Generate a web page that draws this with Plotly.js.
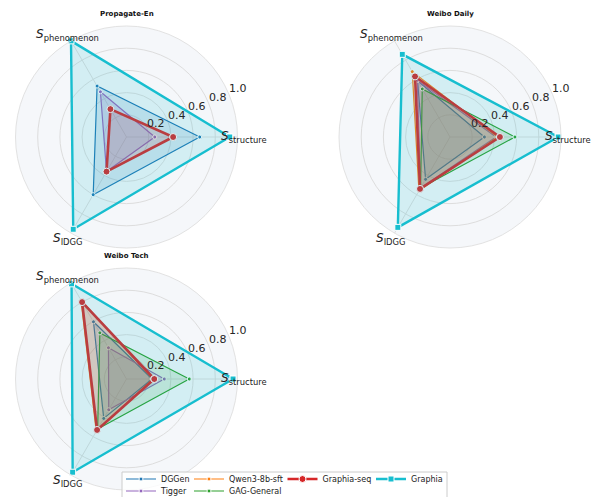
<!DOCTYPE html>
<html><head><meta charset="utf-8">
<script src="https://cdn.plot.ly/plotly-3.0.1.min.js"></script>
<style>html,body{margin:0;padding:0;background:#fff}#chart{width:592px;height:497px}</style>
</head><body><div id="chart"></div>
<script>
// ---- data ----
const axes = ['structure', 'phenomenon', 'IDGG'];
const axisLabels = ['<i>S</i><sub>structure</sub>', '<i>S</i><sub>phenomenon</sub>', '<i>S</i><sub>IDGG</sub>'];
const datasets = ['Propagate-En', 'Weibo Daily', 'Weibo Tech'];
const radialTicks = [0.2, 0.4, 0.6, 0.8, 1.0];
const radialTickText = ['0.2', '0.4', '0.6', '0.8', '1.0'];
const methods = ['DGGen', 'Tigger', 'Qwen3-8b-sft', 'GAG-General', 'Graphia-seq', 'Graphia'];

// values per dataset: [S_structure, S_phenomenon, S_IDGG]
const DGGen      = [[0.66, 0.53, 0.60], [0.31, 0.585, 0.44], [0.23, 0.595, 0.41]];
const Tigger     = [[0.255, 0.47, 0.36], [0.415, 0.59, 0.53], [0.34, 0.325, 0.32]];
const Qwen3      = [null, [0.43, 0.68, 0.56], [0.24, 0.82, 0.545]];
const GAGGeneral = [null, [0.585, 0.50, 0.53], [0.565, 0.48, 0.52]];
const GraphiaSeq = [[0.42, 0.29, 0.36], [0.45, 0.63, 0.54], [0.25, 0.80, 0.53]];
const Graphia    = [[0.93, 1.0, 0.96], [0.975, 0.86, 0.94], [0.96, 0.99, 0.97]];
const seriesValues = [DGGen, Tigger, Qwen3, GAGGeneral, GraphiaSeq, Graphia];

// ---- styles ----
const colors = ['#1f77b4', '#9467bd', '#ff7f0e', '#2ca02c', '#d62728', '#17becf'];
const fills = ['rgba(31,119,180,0.15)', 'rgba(148,103,189,0.15)', 'rgba(255,127,14,0.15)',
               'rgba(44,160,44,0.15)', 'rgba(214,39,40,0.15)', 'rgba(23,190,207,0.15)'];
const lineW = [1.2, 1.2, 1.2, 1.2, 2.6, 2.4];
const markSize = [4, 4, 4, 4, 7, 6];
const markSym = ['circle', 'circle', 'circle', 'circle', 'circle', 'square'];
const legendWhich = ['legend', 'legend2', 'legend', 'legend2', 'legend', 'legend'];
const legendRank = [1, 1, 2, 2, 3, 4];
const legendW = [23, 23, 48.5, 48.5, 43.5, 32];

const W = 592, H = 497, R = 111;
const centers = [[126.5, 137], [450, 137], [126.5, 379]];
const polarIds = ['polar', 'polar2', 'polar3'];
const FONT = 'DejaVu Sans, sans-serif';

const traces = [];
datasets.forEach((ds, d) => {
  seriesValues.forEach((vals, m) => {
    const v = vals[d];
    if (!v) return;
    const r = v.concat([v[0]]);
    const theta = axes.concat([axes[0]]);
    traces.push({
      type: 'scatterpolar', subplot: polarIds[d], r: r, theta: theta,
      mode: 'lines', fill: 'toself', fillcolor: fills[m],
      line: {width: 0, color: 'rgba(0,0,0,0)'}, showlegend: false, hoverinfo: 'skip'
    });
    traces.push({
      type: 'scatterpolar', subplot: polarIds[d], r: r, theta: theta,
      mode: 'lines+markers', name: methods[m],
      line: {color: colors[m], width: lineW[m]},
      marker: {color: colors[m], size: markSize[m], symbol: markSym[m], line: {color: '#ffffff', width: 1}},
      showlegend: d === 1, legend: legendWhich[m], legendrank: legendRank[m],
      legendwidth: legendW[m], legendgroup: methods[m]
    });
  });
});

const annotations = [];
const layout = {
  width: W, height: H, margin: {l: 0, r: 0, t: 0, b: 0, autoexpand: false},
  paper_bgcolor: '#ffffff', font: {family: FONT, color: '#222222'},
  showlegend: true, annotations: annotations,
  legend: {orientation: 'h', x: 121 / W, xanchor: 'left', y: 1 - 464.5 / H, yanchor: 'top',
           bgcolor: 'rgba(0,0,0,0)', borderwidth: 0, itemwidth: 30,
           font: {family: FONT, size: 8, color: '#222222'}},
  legend2: {orientation: 'h', x: 121 / W, xanchor: 'left', y: 1 - 476.5 / H, yanchor: 'top',
            bgcolor: 'rgba(0,0,0,0)', borderwidth: 0, itemwidth: 30,
            font: {family: FONT, size: 8, color: '#222222'}},
  shapes: [{type: 'rect', xref: 'paper', yref: 'paper', x0: 122 / W, x1: 447 / W,
            y0: 1 - 472 / H, y1: -0.02, line: {color: '#cccccc', width: 1},
            fillcolor: 'rgba(255,255,255,0.8)', layer: 'above'}]
};

centers.forEach((c, d) => {
  const [cx, cy] = c;
  layout[polarIds[d]] = {
    domain: {x: [(cx - R) / W, (cx + R) / W], y: [1 - (cy + R) / H, 1 - (cy - R) / H]},
    bgcolor: '#f5f7fa',
    radialaxis: {range: [0, 1], tickvals: radialTicks, ticktext: radialTickText,
                 showticklabels: false, ticks: '', showline: false,
                 gridcolor: '#dddddd', gridwidth: 1, angle: 22.5},
    angularaxis: {type: 'category', categoryarray: axes, rotation: 0, direction: 'counterclockwise',
                  showticklabels: false, ticks: '', showline: true, linecolor: '#e2e2e2', linewidth: 1,
                  gridcolor: '#dddddd', gridwidth: 1}
  };
  // title
  annotations.push({text: '<b>' + datasets[d] + '</b>', xref: 'paper', yref: 'paper',
    x: cx / W, y: 1 - (cy - 123) / H, xanchor: 'center', yanchor: 'middle', showarrow: false,
    font: {family: FONT, size: 7, color: '#111111'}});
  // axis labels
  axes.forEach((a, k) => {
    const ang = k * 120 * Math.PI / 180;
    const rr = R * 1.063;
    annotations.push({text: axisLabels[k], xref: 'paper', yref: 'paper',
      x: (cx + rr * Math.cos(ang)) / W, y: 1 - (cy - rr * Math.sin(ang)) / H,
      xanchor: 'center', yanchor: 'middle', showarrow: false,
      font: {family: FONT, size: 12, color: '#222222'}});
  });
  // radial tick labels
  radialTicks.forEach((t, k) => {
    const ang = 23.5 * Math.PI / 180;
    const rr = t * R + 10.5;
    annotations.push({text: radialTickText[k], xref: 'paper', yref: 'paper',
      x: (cx + rr * Math.cos(ang)) / W, y: 1 - (cy - rr * Math.sin(ang)) / H,
      xanchor: 'center', yanchor: 'middle', showarrow: false,
      font: {family: FONT, size: 11, color: '#262626'}});
  });
});

Plotly.newPlot('chart', traces, layout, {displayModeBar: false, staticPlot: true});
</script>
</body></html>
